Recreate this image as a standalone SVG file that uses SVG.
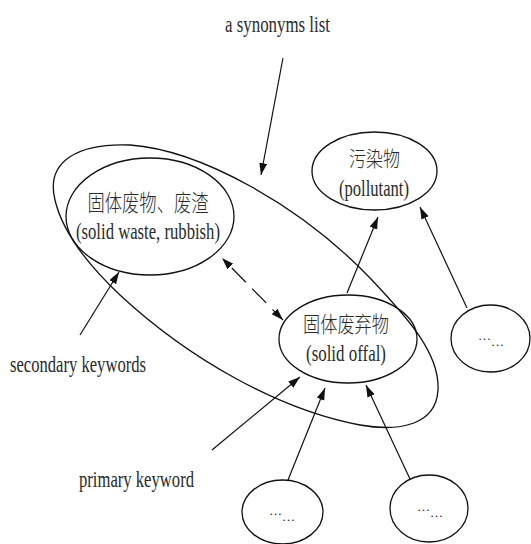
<svg xmlns="http://www.w3.org/2000/svg" width="531" height="544" viewBox="0 0 531 544">
<defs>
<style>
.shape{fill:none;stroke:#111;stroke-width:1.3}
.conn{fill:none;stroke:#111;stroke-width:1.2}
.lat{font-family:"Liberation Serif","Times New Roman",serif;font-size:24px;fill:#2a2a2a}
.cjk{font-family:"Noto Sans CJK SC","Noto Sans CJK TC",sans-serif;fill:#2a2a2a;font-weight:300}
.dots{font-family:"Liberation Serif",serif;font-size:13px;fill:#222}
</style>
<marker id="ah" markerUnits="userSpaceOnUse" markerWidth="13" markerHeight="9" refX="12" refY="4" orient="auto-start-reverse">
<path d="M0,0 L12,4 L0,8 z" fill="#111"/>
</marker>
</defs>
<rect width="531" height="544" fill="#fff"/>

<g id="synonyms-list-outline">
<path class="shape" d="M55,200 C45,160 80,143 130,145 C200,150 300,205 370,278 C410,320 440,355 438,390 C436,425 400,432 360,425 C280,410 190,360 120,295 C85,262 62,230 55,200 Z"/>
</g>

<g id="node-solid-waste">
<ellipse class="shape" cx="150" cy="216.5" rx="84" ry="58.5"/>
<text class="cjk" x="148" y="211" font-size="23" text-anchor="middle" textLength="121" lengthAdjust="spacingAndGlyphs">固体废物、废渣</text>
<text class="lat" x="148" y="239" text-anchor="middle" textLength="144" lengthAdjust="spacingAndGlyphs">(solid waste, rubbish)</text>
</g>

<g id="node-pollutant">
<ellipse class="shape" cx="374.5" cy="171" rx="62.5" ry="39"/>
<text class="cjk" x="374.5" y="165.5" font-size="21" text-anchor="middle" textLength="51" lengthAdjust="spacingAndGlyphs">污染物</text>
<text class="lat" x="374" y="196" text-anchor="middle" textLength="70" lengthAdjust="spacingAndGlyphs">(pollutant)</text>
</g>

<g id="node-solid-offal">
<ellipse class="shape" cx="348" cy="339" rx="69" ry="44"/>
<text class="cjk" x="346" y="331.5" font-size="22" text-anchor="middle" textLength="86" lengthAdjust="spacingAndGlyphs">固体废弃物</text>
<text class="lat" x="346" y="361" text-anchor="middle" textLength="80" lengthAdjust="spacingAndGlyphs">(solid offal)</text>
</g>

<g id="node-etc-right">
<ellipse class="shape" cx="490.5" cy="338.5" rx="39.5" ry="33.5"/>
<text class="dots" x="478" y="340">…<tspan dy="6">…</tspan></text>
</g>

<g id="node-etc-bottom-left">
<ellipse class="shape" cx="282.5" cy="512" rx="40.5" ry="32"/>
<text class="dots" x="269" y="515">…<tspan dy="6">…</tspan></text>
</g>

<g id="node-etc-bottom-right">
<ellipse class="shape" cx="429" cy="508.5" rx="39" ry="33.5"/>
<text class="dots" x="417" y="511">…<tspan dy="6">…</tspan></text>
</g>

<g id="labels">
<text class="lat" x="277.5" y="32" text-anchor="middle" textLength="105" lengthAdjust="spacingAndGlyphs">a synonyms list</text>
<text class="lat" x="10" y="372" textLength="136" lengthAdjust="spacingAndGlyphs">secondary keywords</text>
<text class="lat" x="79" y="487" textLength="115" lengthAdjust="spacingAndGlyphs">primary keyword</text>
</g>

<g id="connectors">
<line class="conn" x1="283" y1="58" x2="261" y2="175" marker-end="url(#ah)"/>
<line class="conn" x1="347" y1="293" x2="378" y2="217" marker-end="url(#ah)"/>
<line class="conn" x1="467" y1="308" x2="420" y2="207" marker-end="url(#ah)"/>
<line class="conn" x1="222" y1="258" x2="283" y2="320" stroke-dasharray="0 14 20 9 20 9 40" marker-start="url(#ah)" marker-end="url(#ah)"/>
<line class="conn" x1="80" y1="335" x2="119" y2="272" marker-end="url(#ah)"/>
<line class="conn" x1="212" y1="450" x2="300" y2="377" marker-end="url(#ah)"/>
<line class="conn" x1="288" y1="480" x2="325" y2="388" marker-end="url(#ah)"/>
<line class="conn" x1="410" y1="479" x2="366" y2="385" marker-end="url(#ah)"/>
</g>
</svg>
